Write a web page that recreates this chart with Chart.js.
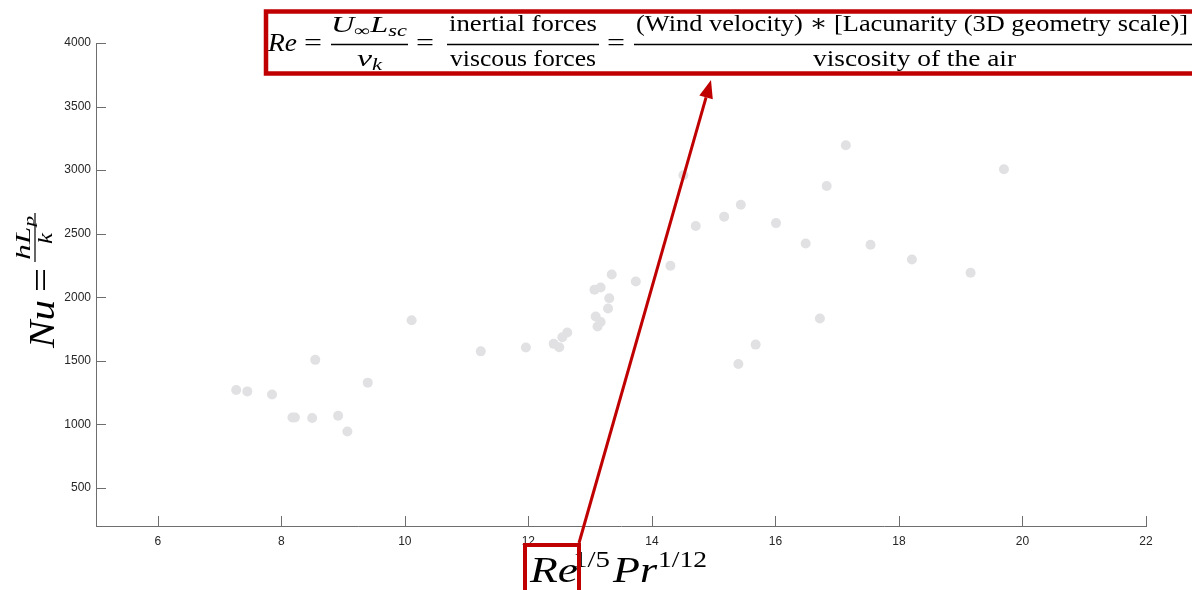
<!DOCTYPE html>
<html>
<head>
<meta charset="utf-8">
<script src="https://cdn.jsdelivr.net/npm/chart.js"></script>
<style>
  html, body { margin: 0; padding: 0; background: #fff; }
  #wrap { width: 1192px; height: 590px; }
</style>
</head>
<body>
<div id="wrap"><canvas id="nuChart" width="1192" height="590"></canvas></div>
<script>
// Re^(1/5) Pr^(1/12) against Nusselt number, one point per sample
const reprValues = [7.27, 7.45, 7.85, 8.18, 8.22, 8.50, 8.55, 8.92, 9.07, 9.40,
    10.11, 11.23, 11.96, 12.41, 12.50, 12.55, 12.63, 13.07, 13.17, 13.35,
    13.31, 13.29, 13.09, 13.17, 13.12, 13.74, 14.30, 14.51, 14.71, 15.17,
    15.44, 16.01, 16.49, 16.83, 17.14, 17.54, 18.21, 19.16, 19.70, 16.72,
    15.68, 15.40];
const nuValues = [1270, 1259, 1235, 1054, 1054, 1049, 1507, 1068, 944, 1328,
    1819, 1574, 1604, 1633, 1606, 1685, 1722, 2058, 2077, 2179,
    1992, 1911, 1848, 1805, 1769, 2124, 2248, 2959, 2560, 2634,
    2728, 2583, 2423, 2875, 3196, 2413, 2297, 2192, 3007, 1832,
    1627, 1475];
const xTicks = [6, 8, 10, 12, 14, 16, 18, 20, 22];
const yTicks = [500, 1000, 1500, 2000, 2500, 3000, 3500, 4000];

const RED = '#c00000';
const SERIF = '"Liberation Serif", "DejaVu Serif", serif';
const SANS = '"Liberation Sans", Arial, sans-serif';

// draw a string squeezed/stretched to a given width, left edge at x
function fitText(ctx, text, font, x, baseline, width) {
    ctx.font = font;
    const w = ctx.measureText(text).width;
    ctx.save();
    ctx.translate(x, baseline);
    ctx.scale(width / w, 1);
    ctx.textAlign = 'left';
    ctx.textBaseline = 'alphabetic';
    ctx.fillText(text, 0, 0);
    ctx.restore();
}

// draw a run of pieces (text, font, vertical shift) as one block of given width
function fitRun(ctx, pieces, x, baseline, width) {
    let total = 0;
    pieces.forEach(p => { ctx.font = p.font; p.w = ctx.measureText(p.t).width; total += p.w; });
    ctx.save();
    ctx.translate(x, baseline);
    ctx.scale(width / total, 1);
    ctx.textAlign = 'left';
    ctx.textBaseline = 'alphabetic';
    let cx = 0;
    pieces.forEach(p => {
        ctx.font = p.font;
        ctx.fillText(p.t, cx, p.dy || 0);
        cx += p.w;
    });
    ctx.restore();
}

function hLine(ctx, x1, x2, y, lw) {
    ctx.beginPath();
    ctx.lineWidth = lw;
    ctx.moveTo(x1, y);
    ctx.lineTo(x2, y);
    ctx.stroke();
}

const it = s => 'italic ' + s + 'px ' + SERIF;
const rm = s => s + 'px ' + SERIF;

const extras = {
    id: 'extras',
    afterDraw(chart) {
        const ctx = chart.ctx;
        const area = chart.chartArea;
        const xs = chart.scales.x, ys = chart.scales.y;

        // inward tick marks
        ctx.save();
        ctx.strokeStyle = '#6e6e6e';
        ctx.lineWidth = 1;
        ctx.beginPath();
        xTicks.forEach(v => {
            const px = Math.round(xs.getPixelForValue(v)) + 0.5;
            ctx.moveTo(px, area.bottom);
            ctx.lineTo(px, area.bottom - 10);
        });
        yTicks.forEach(v => {
            const py = Math.round(ys.getPixelForValue(v)) + 0.5;
            ctx.moveTo(area.left, py);
            ctx.lineTo(area.left + 10, py);
        });
        ctx.stroke();
        ctx.restore();

        ctx.save();
        ctx.fillStyle = '#000';
        ctx.strokeStyle = '#000';

        // x axis title
        fitText(ctx, 'Re', it(36), 530, 582, 48);
        fitText(ctx, '1/5', rm(24), 573, 567, 37);
        fitText(ctx, 'Pr', it(36), 613, 582, 44);
        fitText(ctx, '1/12', rm(24), 658, 567, 49);

        // y axis title, rotated
        ctx.save();
        ctx.translate(40, 290);
        ctx.rotate(-Math.PI / 2);
        fitText(ctx, 'Nu', it(36), -58, 14, 48);
        fitText(ctx, '=', rm(36), -2, 13, 24);
        fitRun(ctx, [
            { t: 'hL', font: it(21) },
            { t: 'p', font: it(14), dy: 4 }
        ], 30, -10, 44);
        hLine(ctx, 28, 77, -5, 1.2);
        fitText(ctx, 'k', it(21), 46, 12, 11);
        ctx.restore();

        // Reynolds number definition
        fitText(ctx, 'Re', it(26), 268, 51, 29);
        fitText(ctx, '=', rm(26), 304, 51, 18);
        fitRun(ctx, [
            { t: 'U', font: it(23) },
            { t: '\u221E', font: rm(16), dy: 4 },
            { t: 'L', font: it(23) },
            { t: 'sc', font: it(16), dy: 4 }
        ], 331, 32, 76);
        hLine(ctx, 331, 408, 44.5, 1.3);
        fitRun(ctx, [
            { t: '\u03BD', font: it(24) },
            { t: 'k', font: it(16), dy: 4 }
        ], 357, 66, 25);
        fitText(ctx, '=', rm(26), 416, 51, 18);
        fitText(ctx, 'inertial forces', rm(24), 449, 31, 148);
        hLine(ctx, 447, 599, 44.5, 1.3);
        fitText(ctx, 'viscous forces', rm(24), 450, 66, 146);
        fitText(ctx, '=', rm(26), 607, 51, 18);
        fitRun(ctx, [
            { t: '(Wind velocity) ', font: rm(24) },
            { t: '\u2217', font: '24px "DejaVu Serif", serif' },
            { t: ' [Lacunarity (3D geometry scale)]', font: rm(24) }
        ], 636, 31, 552);
        hLine(ctx, 634, 1192, 44.5, 1.3);
        fitText(ctx, 'viscosity of the air', rm(24), 813, 66, 203);

        // red callouts
        ctx.strokeStyle = RED;
        ctx.fillStyle = RED;
        ctx.lineWidth = 4.5;
        ctx.strokeRect(266, 11.5, 960, 62);
        ctx.lineWidth = 4;
        ctx.strokeRect(525, 545, 54, 60);

        const x0 = 579, y0 = 543, x1 = 711, y1 = 80;
        const ang = Math.atan2(y1 - y0, x1 - x0);
        const headLen = 18, headW = 7;
        const bx = x1 - headLen * Math.cos(ang), by = y1 - headLen * Math.sin(ang);
        ctx.lineWidth = 3;
        ctx.beginPath();
        ctx.moveTo(x0, y0);
        ctx.lineTo(bx, by);
        ctx.stroke();
        ctx.beginPath();
        ctx.moveTo(x1, y1);
        ctx.lineTo(bx + headW * Math.sin(ang), by - headW * Math.cos(ang));
        ctx.lineTo(bx - headW * Math.sin(ang), by + headW * Math.cos(ang));
        ctx.closePath();
        ctx.fill();
        ctx.restore();
    }
};

const points = reprValues.map((x, i) => ({ x: x, y: nuValues[i] }));

new Chart(document.getElementById('nuChart'), {
    type: 'scatter',
    data: {
        datasets: [{
            data: points,
            backgroundColor: '#e1e1e4',
            borderWidth: 0,
            pointRadius: 5,
            pointHoverRadius: 5
        }]
    },
    options: {
        responsive: false,
        animation: false,
        layout: { padding: { top: 43, right: 46, left: 0, bottom: 0 } },
        plugins: {
            legend: { display: false },
            tooltip: { enabled: false }
        },
        scales: {
            x: {
                type: 'linear',
                min: 5,
                max: 22,
                afterBuildTicks: s => { s.ticks = xTicks.map(v => ({ value: v })); },
                afterFit: s => { s.height = 64; },
                grid: { display: false, drawTicks: false },
                border: { display: true, color: '#6e6e6e', width: 1 },
                ticks: { padding: 8, maxRotation: 0, color: '#262626', font: { family: SANS, size: 12 },
                    callback: v => String(v) }
            },
            y: {
                type: 'linear',
                min: 200,
                max: 4000,
                afterBuildTicks: s => { s.ticks = yTicks.map(v => ({ value: v })); },
                afterFit: s => { s.width = 96; },
                grid: { display: false, drawTicks: false },
                border: { display: true, color: '#6e6e6e', width: 1 },
                ticks: { padding: 5, color: '#262626', font: { family: SANS, size: 12 },
                    callback: v => String(v) }
            }
        }
    },
    plugins: [extras]
});
</script>
</body>
</html>
